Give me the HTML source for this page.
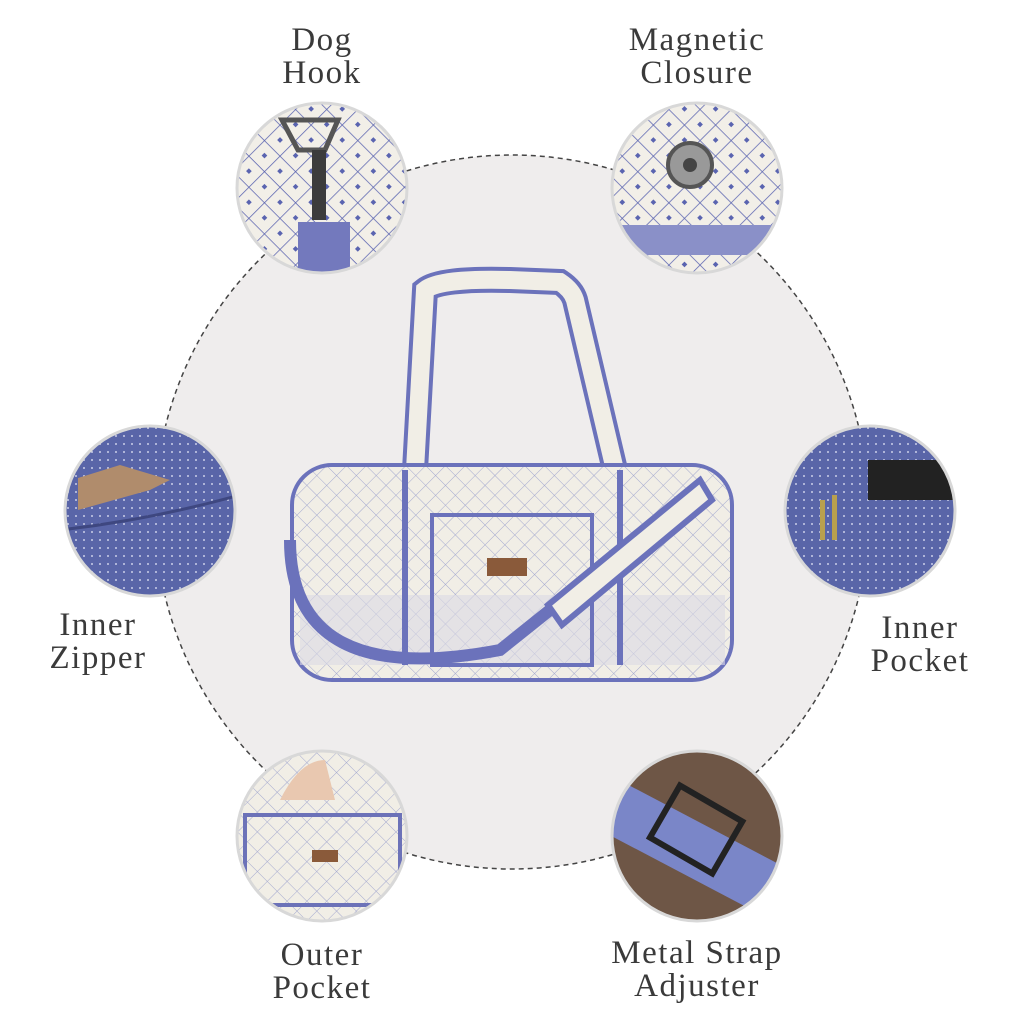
<!DOCTYPE html>
<html><head><meta charset="utf-8"><style>
html,body{margin:0;padding:0;background:#fff;width:1024px;height:1024px;overflow:hidden}
.lbl{position:absolute;font-family:"Liberation Serif",serif;font-size:33px;color:#3a3a3a;text-align:center;line-height:33px;letter-spacing:1.5px;width:300px}
</style></head><body>
<svg width="1024" height="1024" style="position:absolute;left:0;top:0">
<defs>
<pattern id="dia" width="22" height="22" patternUnits="userSpaceOnUse" patternTransform="rotate(45)">
<rect width="22" height="22" fill="#f2efe8"/><path d="M0 0H22M0 0V22" stroke="#5a64b0" stroke-width="1.5"/><rect x="9" y="9" width="4" height="4" fill="#5a64b0"/></pattern>
<pattern id="dots" width="8" height="8" patternUnits="userSpaceOnUse"><rect width="8" height="8" fill="#5965a8"/><circle cx="4" cy="4" r="1" fill="#c9cde8"/></pattern>
<pattern id="quilt" width="14" height="14" patternUnits="userSpaceOnUse" patternTransform="rotate(45)"><rect width="14" height="14" fill="#f1eee6"/><path d="M0 0H14M0 0V14" stroke="#a4a9cf" stroke-width="1"/></pattern>
<clipPath id="c1"><circle cx="322" cy="188" r="85"/></clipPath>
<clipPath id="c2"><circle cx="697" cy="188" r="85"/></clipPath>
<clipPath id="c3"><circle cx="150" cy="511" r="85"/></clipPath>
<clipPath id="c4"><circle cx="870" cy="511" r="85"/></clipPath>
<clipPath id="c5"><circle cx="322" cy="836" r="85"/></clipPath>
<clipPath id="c6"><circle cx="697" cy="836" r="85"/></clipPath>
</defs>
<circle cx="512" cy="512" r="357" fill="#efeded" stroke="#444" stroke-width="1.5" stroke-dasharray="5 4"/>
<circle cx="322" cy="188" r="85" fill="url(#dia)"/>
<circle cx="697" cy="188" r="85" fill="url(#dia)"/>
<circle cx="150" cy="511" r="85" fill="url(#dots)"/>
<circle cx="870" cy="511" r="85" fill="url(#dots)"/>
<circle cx="322" cy="836" r="85" fill="url(#quilt)"/>
<circle cx="697" cy="836" r="85" fill="#6e5646"/>
<g clip-path="url(#c1)">
<rect x="298" y="222" width="52" height="60" fill="#7379bd"/>
<path d="M282 120 L338 120 L325 150 L298 150Z" fill="none" stroke="#555" stroke-width="5"/>
<rect x="312" y="150" width="14" height="70" fill="#3c3c3c"/>
</g>
<g clip-path="url(#c2)">
<circle cx="690" cy="165" r="22" fill="#999" stroke="#555" stroke-width="4"/><circle cx="690" cy="165" r="7" fill="#444"/>
<rect x="605" y="225" width="185" height="30" fill="#8a90c8"/>
</g>
<g clip-path="url(#c3)">
<path d="M78 510 L150 490 L170 480 L120 465 L78 478Z" fill="#b08c6c"/>
<path d="M60 530 Q150 520 240 495" stroke="#3e4780" stroke-width="3" fill="none"/>
</g>
<g clip-path="url(#c4)">
<rect x="868" y="460" width="85" height="40" fill="#222"/>
<rect x="820" y="500" width="5" height="40" fill="#b9a04e"/><rect x="832" y="495" width="5" height="45" fill="#b9a04e"/>
</g>
<g clip-path="url(#c6)">
<path d="M600 770 L790 870 L790 930 L600 830Z" fill="#7a86c8"/>
<rect x="660" y="800" width="72" height="60" fill="none" stroke="#222" stroke-width="6" transform="rotate(30 697 830)"/>
</g>
<g clip-path="url(#c5)">
<rect x="245" y="815" width="155" height="90" fill="url(#quilt)" stroke="#6c72b8" stroke-width="4"/>
<rect x="312" y="850" width="26" height="12" fill="#8a5a3a"/>
<path d="M280 800 Q300 760 325 760 L335 800Z" fill="#e9c8b0"/>
</g>
<g fill="none" stroke="#d8d8d8" stroke-width="3">
<circle cx="322" cy="188" r="85"/><circle cx="697" cy="188" r="85"/><circle cx="150" cy="511" r="85"/>
<circle cx="870" cy="511" r="85"/><circle cx="322" cy="836" r="85"/><circle cx="697" cy="836" r="85"/>
</g>
<!-- bag -->
<path d="M415 470 L425 290 Q440 278 510 280 L560 282 Q572 290 575 300 L615 470" fill="none" stroke="#6b72bb" stroke-width="26"/>
<path d="M415 470 L425 290 Q440 278 510 280 L560 282 Q572 290 575 300 L615 470" fill="none" stroke="#f1eee6" stroke-width="18"/>
<rect x="292" y="465" width="440" height="215" rx="40" fill="url(#quilt)" stroke="#6b72bb" stroke-width="4"/>
<rect x="300" y="595" width="425" height="70" fill="#dcdbe4" opacity=".6"/>
<rect x="432" y="515" width="160" height="150" fill="none" stroke="#6b72bb" stroke-width="4"/>
<path d="M405 470 V665 M620 470 V665" stroke="#6b72bb" stroke-width="6"/>
<rect x="487" y="558" width="40" height="18" fill="#8a5a3a"/>
<path d="M290 540 Q290 690 500 650 L700 490" fill="none" stroke="#6b72bb" stroke-width="12"/>
<path d="M548 605 L700 480 L712 500 L562 625Z" fill="#f1eee6" stroke="#6b72bb" stroke-width="6"/>
</svg>
<div class="lbl" style="left:172px;top:24px">Dog<br>Hook</div>
<div class="lbl" style="left:547px;top:24px">Magnetic<br>Closure</div>
<div class="lbl" style="left:-52px;top:609px">Inner<br>Zipper</div>
<div class="lbl" style="left:770px;top:612px">Inner<br>Pocket</div>
<div class="lbl" style="left:172px;top:939px">Outer<br>Pocket</div>
<div class="lbl" style="left:547px;top:937px">Metal Strap<br>Adjuster</div>
</body></html>
